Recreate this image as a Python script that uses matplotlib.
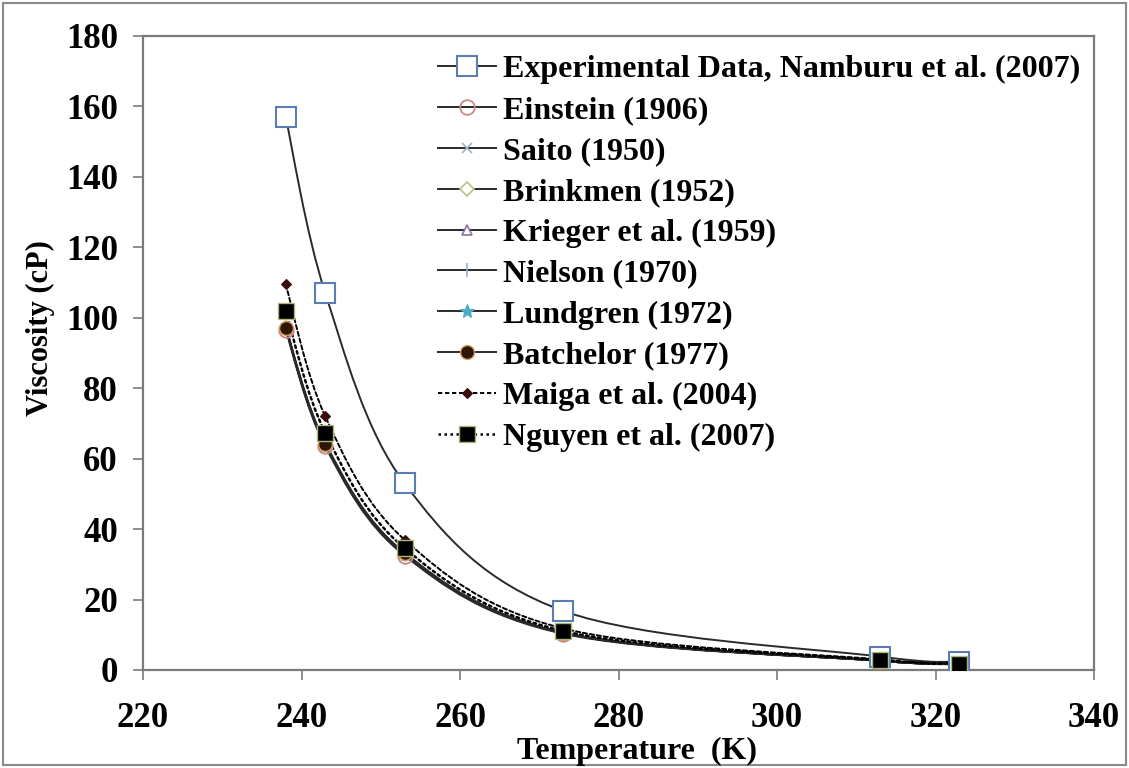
import numpy as np
import matplotlib
matplotlib.use('Agg')
import matplotlib.pyplot as plt
from matplotlib.path import Path
from matplotlib.patches import PathPatch, Rectangle
from matplotlib.lines import Line2D

# --- data ---
temperature = [238, 243, 253, 273, 313, 323]
experimental = [157.0, 107.0, 53.0, 16.8, 3.8, 2.4]
einstein = [96.5, 63.5, 32.5, 10.3, 2.6, 1.6]
saito = [97.0, 64.0, 33.0, 10.5, 2.6, 1.7]
brinkmen = [97.0, 64.0, 33.0, 10.5, 2.6, 1.7]
krieger = [97.5, 64.5, 33.2, 10.6, 2.7, 1.7]
nielson = [97.0, 64.0, 33.0, 10.5, 2.6, 1.7]
lundgren = [97.0, 64.0, 33.0, 10.5, 2.6, 1.7]
batchelor = [97.2, 64.2, 33.3, 10.6, 2.7, 1.7]
maiga = [109.5, 72.0, 37.0, 11.8, 3.0, 1.9]
nguyen = [102.0, 67.3, 34.6, 11.1, 2.8, 1.8]

x_ticks = [220, 240, 260, 280, 300, 320, 340]
y_ticks = [0, 20, 40, 60, 80, 100, 120, 140, 160, 180]

labels = [
    "Experimental Data, Namburu et al. (2007)",
    "Einstein (1906)",
    "Saito (1950)",
    "Brinkmen (1952)",
    "Krieger et al. (1959)",
    "Nielson (1970)",
    "Lundgren (1972)",
    "Batchelor (1977)",
    "Maiga et al. (2004)",
    "Nguyen et al. (2007)",
]
series = [experimental, einstein, saito, brinkmen, krieger,
          nielson, lundgren, batchelor, maiga, nguyen]

# marker / line styles (Excel-like)
styles = [
    dict(ls='-', marker='s', ms=15, mfc='white', mec='#5a7db3', mew=1.5),
    dict(ls='-', marker='o', ms=10.5, mfc='none', mec='#c98a86', mew=1.3),
    dict(ls='-', marker='x', ms=7, mfc='none', mec='#9fb2d0', mew=1.2),
    dict(ls='-', marker='D', ms=7.5, mfc='white', mec='#b8c382', mew=1.2),
    dict(ls='-', marker='^', ms=7, mfc='white', mec='#8a72a8', mew=1.2),
    dict(ls='-', marker='|', ms=10, mfc='none', mec='#9db0c4', mew=1.2),
    dict(ls='-', marker='*', ms=10, mfc='#4bacc6', mec='#4bacc6', mew=0.8),
    dict(ls='-', marker='o', ms=10, mfc='#2e1606', mec='#d99a5c', mew=1.0),
    dict(ls=(0, (2.2, 1.4)), marker='D', ms=5, mfc='#3a0c0c', mec='#3a0c0c', mew=0.8),
    dict(ls=(0, (1.0, 1.4)), marker='s', ms=11, mfc='black', mec='#a9b87a', mew=1.0),
]
line_colors = ['#2a2a2a'] * 8 + ['black', 'black']
line_widths = [1.4] * 8 + [1.4, 1.8]

plt.rcParams['font.family'] = ['Liberation Serif', 'DejaVu Serif']
plt.rcParams['font.weight'] = 'bold'


def smooth_path(xs, ys):
    """Excel-style smoothed line: cubic Bezier through the points."""
    pts = np.column_stack([xs, ys]).astype(float)
    verts = [pts[0]]
    codes = [Path.MOVETO]
    n = len(pts)
    for i in range(n - 1):
        p0 = pts[i - 1] if i > 0 else pts[i]
        p1 = pts[i]
        p2 = pts[i + 1]
        p3 = pts[i + 2] if i + 2 < n else pts[i + 1]
        c1 = p1 + (p2 - p0) / 6.0
        c2 = p2 - (p3 - p1) / 6.0
        verts += [c1, c2, p2]
        codes += [Path.CURVE4] * 3
    return Path(verts, codes)


W, H = 1129, 768
fig = plt.figure(figsize=(W / 100, H / 100), dpi=100)
ax = fig.add_axes([143 / W, 1 - 670 / H, (1094 - 143) / W, (670 - 36) / H])

handles = []
for ys, st, lc, lw, lab in zip(series, styles, line_colors, line_widths, labels):
    path = smooth_path(temperature, ys)
    ax.add_patch(PathPatch(path, fill=False, edgecolor=lc, lw=lw,
                           linestyle=st['ls'], capstyle='round', zorder=2))
    ax.plot(temperature, ys, ls='none', marker=st['marker'], ms=st['ms'],
            mfc=st['mfc'], mec=st['mec'], mew=st['mew'], zorder=3)
    handles.append(Line2D([], [], color=lc, lw=lw, ls=st['ls'],
                          marker=st['marker'], ms=st['ms'], mfc=st['mfc'],
                          mec=st['mec'], mew=st['mew'], label=lab))

ax.set_xlim(220, 340)
ax.set_ylim(0, 180)
ax.set_xticks(x_ticks)
ax.set_yticks(y_ticks)
for sp in ax.spines.values():
    sp.set_color('#7a7a7a')
    sp.set_linewidth(1.6)
ax.tick_params(direction='out', length=7, width=1.2, color='#7a7a7a',
               labelsize=25, pad=11)
ax.tick_params(axis='x', pad=16)
for t in ax.get_xticklabels() + ax.get_yticklabels():
    t.set_fontweight('bold')

fig.text(637 / W, 1 - 751 / H, "Temperature  (K)", ha='center', va='center',
         fontsize=23, fontweight='bold')
fig.text(40 / W, 1 - 328 / H, "Viscosity (cP)", ha='center', va='center',
         rotation=90, fontsize=22, fontweight='bold')

leg = ax.legend(handles=handles, loc='upper left',
                bbox_to_anchor=(438 / W, 1 - 55 / H), bbox_transform=fig.transFigure,
                frameon=False, fontsize=23, handlelength=1.8, handletextpad=0.22,
                labelspacing=0.36, borderpad=0, borderaxespad=0)
for t in leg.get_texts():
    t.set_fontweight('bold')

fig.patches.append(Rectangle((3 / W, 3 / H), 1 - 6 / W, 1 - 6 / H,
                             transform=fig.transFigure, fill=False,
                             edgecolor='#8a8a8a', lw=1.5))

fig.savefig('out.png', dpi=100)
